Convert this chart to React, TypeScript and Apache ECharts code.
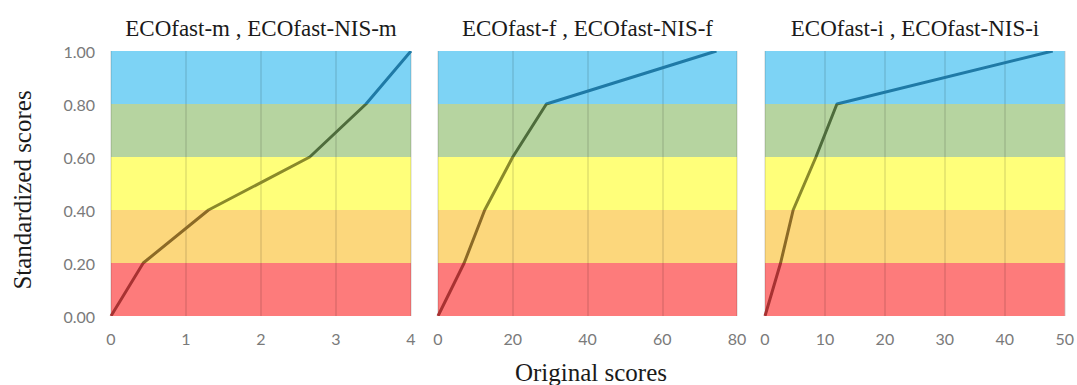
import React, { useEffect, useRef } from "react";
import * as echarts from "echarts";

const titles = ["ECOfast-m , ECOfast-NIS-m", "ECOfast-f , ECOfast-NIS-f", "ECOfast-i , ECOfast-NIS-i"];
const xMax = [4, 80, 50];
const xInterval = [1, 20, 10];
const seriesM = [[0, 0], [0.43, 0.2], [1.3, 0.4], [2.65, 0.6], [3.4, 0.8], [4, 1.0]];
const seriesF = [[0, 0], [7, 0.2], [12.5, 0.4], [20, 0.6], [29, 0.8], [74.5, 1.0]];
const seriesI = [[0, 0], [2.6, 0.2], [4.7, 0.4], [8.5, 0.6], [12, 0.8], [48, 1.0]];
const bandEdges = [0, 0.2, 0.4, 0.6, 0.8, 1.0];
const bandColors = ["#fd7b7b", "#fcd77c", "#ffff7a", "#b6d4a0", "#7dd3f5"];
const lineColors = ["#a83232", "#8c6a26", "#8a8a2a", "#4e6c3c", "#1f7aa6"];
const yLabels = ["0.00", "0.20", "0.40", "0.60", "0.80", "1.00"];

const allSeries = [seriesM, seriesF, seriesI];
const gridLefts = [111, 438, 765];
const gridWidths = [300, 299, 300];

export default function App() {
  const ref = useRef<HTMLDivElement>(null);
  useEffect(() => {
    const chart = echarts.init(ref.current!, null, { renderer: "svg" });
    const grids = gridLefts.map((l, i) => ({ left: l, width: gridWidths[i], top: 51, height: 265 }));
    const xAxes = xMax.map((m, i) => ({
      type: "value",
      gridIndex: i,
      min: 0,
      max: m,
      interval: xInterval[i],
      z: 3,
      axisLine: { show: false },
      axisTick: { show: false },
      axisLabel: { color: "#7a7a7a", fontSize: 16, fontFamily: "Lato", margin: 14 },
      splitLine: { show: true, lineStyle: { color: "rgba(0,0,0,0.12)", width: 1.5 } },
    }));
    const yAxes = xMax.map((_, i) => ({
      type: "value",
      gridIndex: i,
      min: 0,
      max: 1,
      interval: 0.2,
      axisLine: { show: false },
      axisTick: { show: false },
      splitLine: { show: false },
      axisLabel: {
        show: i === 0,
        color: "#7a7a7a",
        fontSize: 16,
        fontFamily: "Lato",
        margin: 16,
        formatter: (v: number) => yLabels[Math.round(v / 0.2)],
      },
    }));
    const bandData = bandColors.map((c, k) => [
      { yAxis: bandEdges[k], itemStyle: { color: c, opacity: 1 } },
      { yAxis: bandEdges[k + 1] },
    ]);
    const series: any[] = [];
    allSeries.forEach((d, i) => {
      series.push({
        type: "line",
        xAxisIndex: i,
        yAxisIndex: i,
        data: [],
        z: 1,
        silent: true,
        markArea: { silent: true, data: bandData },
      });
      series.push({
        type: "line",
        xAxisIndex: i,
        yAxisIndex: i,
        data: d,
        z: 5,
        symbol: "none",
        lineStyle: { width: 3 },
      });
    });
    const visualMaps = allSeries.map((_, i) => ({
      type: "piecewise",
      show: false,
      dimension: 1,
      seriesIndex: i * 2 + 1,
      pieces: lineColors.map((c, k) => ({ gte: bandEdges[k], lte: bandEdges[k + 1], color: c })),
    }));
    chart.setOption({
      animation: false,
      grid: grids,
      xAxis: xAxes,
      yAxis: yAxes,
      visualMap: visualMaps,
      series,
      graphic: [
        ...titles.map((t, i) => ({
          type: "text",
          x: gridLefts[i] + gridWidths[i] / 2,
          y: 28,
          style: {
            text: t,
            fontFamily: "Liberation Serif",
            fontSize: 23,
            fill: "#1a1a1a",
            textAlign: "center",
            textVerticalAlign: "middle",
          },
        })),
        {
          type: "text",
          x: 591,
          y: 372,
          style: {
            text: "Original scores",
            fontFamily: "Liberation Serif",
            fontSize: 25,
            fill: "#1a1a1a",
            textAlign: "center",
            textVerticalAlign: "middle",
          },
        },
        {
          type: "text",
          x: 22,
          y: 190,
          rotation: Math.PI / 2,
          style: {
            text: "Standardized scores",
            fontFamily: "Liberation Serif",
            fontSize: 25,
            fill: "#1a1a1a",
            textAlign: "center",
            textVerticalAlign: "middle",
          },
        },
      ],
    });
    return () => chart.dispose();
  }, []);
  return <div ref={ref} style={{ width: 1077, height: 385, position: "absolute", left: 0, top: 0 }} />;
}
